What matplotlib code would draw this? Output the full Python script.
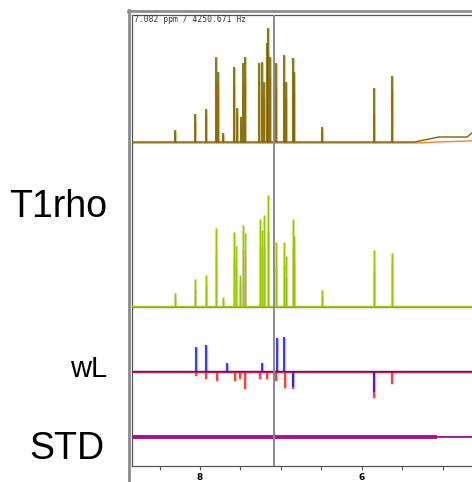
import matplotlib
matplotlib.use('Agg')
import matplotlib.pyplot as plt
from matplotlib.lines import Line2D

# ---------------------------------------------------------------
# peak lists (ppm, intensity in arbitrary units above baseline)
# ---------------------------------------------------------------
ref_ppm = [8.31, 8.06, 7.93, 7.80, 7.78, 7.72, 7.58, 7.54, 7.49, 7.47, 7.44,
           7.27, 7.23, 7.21, 7.17, 7.16, 7.14, 7.06, 6.96, 6.94, 6.85, 6.84,
           6.49, 5.85, 5.63]
ref_olive = [12, 28, 33, 85, 70, 9, 75, 34, 25, 79, 85,
             79, 80, 60, 99, 114, 85, 79, 87, 60, 84, 70,
             15, 54, 66]
ref_orange = [9, 22, 27, 62, 55, 7, 58, 28, 20, 60, 66,
              62, 52, 45, 78, 90, 66, 55, 60, 45, 62, 50,
              11, 30, 54]
ref_base_ppm = [8.84, 5.35, 5.05, 4.70, 4.64]
ref_base_olive = [0, 0, 5, 5, 9]
ref_base_orange = [0, 0, 1, 2, 2]

t1_ppm = [8.31, 8.06, 7.93, 7.80, 7.72, 7.58, 7.55, 7.50, 7.47, 7.44,
          7.26, 7.23, 7.21, 7.16, 7.06, 6.96, 6.94, 6.85, 6.84, 6.49,
          5.85, 5.63]
t1_green = [13, 27, 31, 78, 9, 74, 60, 31, 81, 73,
            87, 76, 91, 111, 64, 64, 50, 87, 70, 16,
            56, 53]
t1_pink = [8, 18, 22, 55, 6, 50, 40, 22, 58, 50,
           60, 56, 62, 75, 40, 42, 30, 58, 45, 10,
           36, 45]

wl_blue_ppm = [8.05, 7.93, 7.67, 7.23, 7.05, 6.96, 6.85, 5.85]
wl_blue = [24, 26, 8, 8, 33, 34, -16, -21]
wl_red_ppm = [8.05, 7.93, 7.79, 7.57, 7.51, 7.44, 7.26, 7.17, 7.06, 6.95,
              6.85, 5.85, 5.63]
wl_red = [-4, -7, -9, -9, -7, -17, -7, -7, -9, -16,
          -17, -26, -12]

std_ppm = [7.08]
std_mag = [4]

# vertical offsets of the stacked traces
offsets = {'ref': 324, 't1rho': 160, 'wl': 95, 'std': 29}

cursor_ppm = 7.082
cursor_text = "7.082 ppm / 4250.671 Hz"
ppm_lim = (8.84, 4.64)

W, H = 472, 482


def fx(px):
    return px / W


def fy(py):
    return 1 - py / H


def sticks(ax, ppm, heights, base, color, lw, halo=None):
    tops = [base + h for h in heights]
    if halo:
        ax.vlines(ppm, base, tops, color=halo, lw=lw + 1.3, zorder=2)
    ax.vlines(ppm, base, tops, color=color, lw=lw, zorder=3)


fig = plt.figure(figsize=(W / 100, H / 100), dpi=100)
ax = fig.add_axes([fx(132), fy(466), fx(472 - 132), (466 - 15) / H])
ax.set_xlim(*ppm_lim)
ax.set_ylim(0, 451)

# reference spectrum (orange under olive)
b = offsets['ref']
ax.plot(ref_base_ppm, [b - 1 + v for v in ref_base_orange], color='#ff7f2a', lw=1.0, zorder=2)
sticks(ax, ref_ppm, ref_orange, b - 1, '#ff7f2a', 1.0)
ax.plot(ref_base_ppm, [b + v for v in ref_base_olive], color='#6e6a00', lw=1.0, zorder=3)
sticks(ax, ref_ppm, ref_olive, b, '#6b6600', 1.1, halo='#d2cf9e')

# T1rho
b = offsets['t1rho']
ax.plot(ppm_lim, [b - 1, b - 1], color='#f0509a', lw=1.0, zorder=2)
sticks(ax, t1_ppm, t1_pink, b - 1, '#f0509a', 1.0)
ax.plot(ppm_lim, [b, b], color='#9ccc10', lw=1.0, zorder=3)
sticks(ax, t1_ppm, t1_green, b, '#96c800', 1.0, halo='#dcedaa')

# wL
b = offsets['wl']
ax.plot(ppm_lim, [b - 1, b - 1], color='#ff1a1a', lw=1.0, zorder=3)
sticks(ax, wl_red_ppm, wl_red, b - 1, '#ff1a1a', 1.1, halo='#ffb8b8')
ax.plot(ppm_lim, [b, b], color='#1a1aff', lw=1.0, zorder=3)
sticks(ax, wl_blue_ppm, wl_blue, b, '#1414ff', 1.1, halo='#b8b8ff')

# STD
b = offsets['std']
ax.plot(ppm_lim, [b + 1.5, b + 1.5], color='#4f8a3c', lw=1.0, alpha=0.6, zorder=2)
ax.plot([8.84, 5.10], [b, b], color='#a8108c', lw=2.8, zorder=3)
ax.plot([5.10, 4.64], [b, b], color='#a8108c', lw=1.3, zorder=3)
sticks(ax, std_ppm, std_mag, b, '#a8108c', 1.0)

# cursor
ax.axvline(cursor_ppm, color='#8a8a8a', lw=1.4, zorder=4)

# frame and ticks
for s in ['left', 'top', 'bottom']:
    ax.spines[s].set_color('#555555')
    ax.spines[s].set_linewidth(0.9)
ax.spines['right'].set_visible(False)
ax.set_yticks([])
ax.set_xticks([8.5, 8.0, 7.5, 7.0, 6.5, 6.0, 5.5, 5.0])
ax.set_xticklabels(['', '8', '', '', '', '6', '', ''])
ax.tick_params(axis='x', direction='out', length=3, width=0.8, color='#555555',
               pad=2, labelsize=6.5)
for lbl in ax.get_xticklabels():
    lbl.set_fontweight('bold')

ax.text(fx(2) / fx(340), 1, cursor_text, transform=ax.transAxes,
        family='DejaVu Sans Mono', fontsize=5.8, color='#333333',
        ha='left', va='top')

# window border
fig.add_artist(Line2D([fx(128.5), fx(128.5)], [fy(10), 0], color='#8c8c8c', lw=2.0,
                      transform=fig.transFigure))
fig.add_artist(Line2D([fx(127.5), 1], [fy(11), fy(11)], color='#8c8c8c', lw=2.0,
                      transform=fig.transFigure))

# trace labels
lab = dict(family='Liberation Sans', color='black', ha='right', va='baseline')
fig.text(fx(107), fy(216.7), 'T1rho', fontsize=27, **lab)
fig.text(fx(107), fy(377.3), 'wL', fontsize=21, **lab)
fig.text(fx(104), fy(458.7), 'STD', fontsize=27, **lab)

fig.savefig('out.png', dpi=100)
